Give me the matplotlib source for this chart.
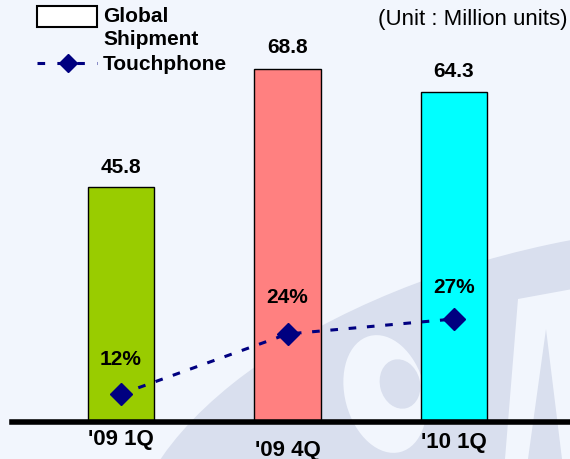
import matplotlib.pyplot as plt
from matplotlib.patches import Rectangle, Ellipse, Polygon
from matplotlib.lines import Line2D

quarters = ["'09 1Q", "'09 4Q", "'10 1Q"]
shipment = [45.8, 68.8, 64.3]
touch_pct = [12, 24, 27]
bar_colors = ['#99CC00', '#FF8080', '#00FFFF']

plt.rcParams['font.family'] = ['Liberation Sans', 'DejaVu Sans']

bg = '#F2F6FD'
wm_col = '#D9DFEE'
fig = plt.figure(figsize=(5.7, 4.6), dpi=100, facecolor=bg)

# faint watermark logo in the background (pixel coordinates, y down)
wm = fig.add_axes([0, 0, 1, 1], zorder=-1)
wm.set_xlim(0, 570)
wm.set_ylim(460, 0)
wm.axis('off')
wm.add_patch(Ellipse((600, 480), 960, 480, angle=-12, facecolor=wm_col, edgecolor='none'))
# rough "A" cut out of the oval
wm.add_patch(Polygon([(518, 300), (600, 285), (600, 460), (505, 460)],
                     facecolor=bg, edgecolor='none'))
wm.add_patch(Polygon([(546, 330), (562, 460), (528, 460)],
                     facecolor=wm_col, edgecolor='none'))
# rough "S" cut out
wm.add_patch(Ellipse((385, 395), 80, 120, angle=-15, facecolor=bg, edgecolor='none'))
wm.add_patch(Ellipse((400, 385), 40, 50, angle=-15, facecolor=wm_col, edgecolor='none'))

ax = fig.add_axes([12 / 570, 37 / 460, 558 / 570, 423 / 460])
ax.patch.set_alpha(0)

x = list(range(len(quarters)))
ax.bar(x, shipment, width=0.40, color=bar_colors, edgecolor='black', linewidth=1, zorder=2)
label_gap = [4.1, 4.5, 4.2]
for xi, v, g in zip(x, shipment, label_gap):
    ax.text(xi, v + g, f'{v}', ha='center', va='center', fontsize=15, fontweight='bold')

ax.set_xlim(-0.655, 2.697)
ax.set_ylim(0, 82.5)
ax.axhline(0, color='black', linewidth=4, zorder=3, clip_on=False)
for s in ax.spines.values():
    s.set_visible(False)
ax.set_yticks([])
ax.set_xticks([])

# x labels with the slight vertical offsets of the original
label_y = [-3.3, -5.3, -3.9]
for xi, q, ly in zip(x, quarters, label_y):
    ax.text(xi, ly, q, ha='center', va='center', fontsize=16, fontweight='bold')

ax2 = ax.twinx()
ax2.set_ylim(6.4, 91.0)
for s in ax2.spines.values():
    s.set_visible(False)
ax2.set_yticks([])
ax2.plot(x, touch_pct, color='#000080', linestyle=(0, (2.5, 3.5)), linewidth=2.2,
         marker='D', markersize=11, zorder=4)
label_off = [7.0, 7.4, 6.4]
for xi, p, off in zip(x, touch_pct, label_off):
    ax2.text(xi, p + off, f'{p}%', ha='center', va='center', fontsize=15, fontweight='bold')

# legend drawn in figure pixels
fig.patches.append(Rectangle((37 / 570, 1 - 28 / 460), 60 / 570, 21 / 460,
                             transform=fig.transFigure, facecolor='white',
                             edgecolor='black', linewidth=1.5))
fig.lines.append(Line2D([37 / 570, 97 / 570], [1 - 64 / 460, 1 - 64 / 460],
                        transform=fig.transFigure, color='#000080',
                        linestyle=(0, (2.5, 4)), linewidth=2.2))
fig.lines.append(Line2D([68 / 570], [1 - 64 / 460], transform=fig.transFigure,
                        color='#000080', marker='D', markersize=9))
fig.text(103 / 570, 1 - 17 / 460, 'Global', fontsize=15, fontweight='bold', va='center')
fig.text(103 / 570, 1 - 40 / 460, 'Shipment', fontsize=15, fontweight='bold', va='center')
fig.text(103 / 570, 1 - 64 / 460, 'Touchphone', fontsize=15, fontweight='bold', va='center')
fig.text(568 / 570, 1 - 20 / 460, '(Unit : Million units)', fontsize=16, ha='right', va='center')

fig.savefig('out.png', dpi=100, facecolor=bg)
